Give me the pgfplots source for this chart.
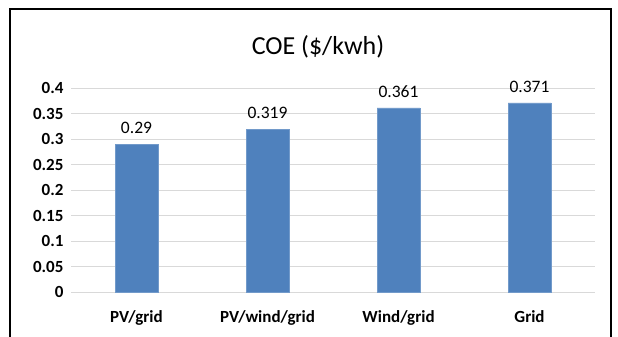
\documentclass[border=0pt]{standalone}
\usepackage{pgfplots}
\pgfplotsset{compat=1.18}
\usepackage{fontspec}
\setmainfont{Carlito}
\definecolor{barblue}{HTML}{4F81BD}
\definecolor{gridgray}{HTML}{D9D9D9}
\begin{document}
\begin{tikzpicture}[x=1bp,y=1bp]
\useasboundingbox (0,0) rectangle (618,336);
% outer chart frame
\draw[line width=2bp] (10,-10) rectangle (611,327);
\node[font=\fontsize{26bp}{30bp}\selectfont] at (318,289) {COE (\$/kwh)};
\begin{axis}[
  at={(71bp,44bp)}, anchor=south west,
  width=524bp, height=204bp, scale only axis,
  ybar, bar width=43bp,
  xmin=-0.5, xmax=3.5, ymin=0, ymax=0.4,
  xtick=data,
  xticklabels={PV/grid, PV/wind/grid, Wind/grid, Grid},
  ytick={0,0.05,...,0.4},
  yticklabel style={/pgf/number format/fixed, /pgf/number format/precision=2},
  /pgf/number format/assume math mode=true,
  ticklabel style={font=\fontsize{17bp}{20bp}\selectfont\bfseries},
  xticklabel style={yshift=-15bp},
  yticklabel style={xshift=-4bp},
  axis line style={draw=none},
  major tick length=0pt,
  ymajorgrids, grid style={gridgray, line width=1bp},
  nodes near coords,
  nodes near coords style={font=\fontsize{17.5bp}{20bp}\selectfont, black, /pgf/number format/fixed, /pgf/number format/precision=3, yshift=7bp},
  clip=false,
]
\addplot[fill=barblue, draw=barblue!80!white] coordinates {(0,0.29) (1,0.319) (2,0.361) (3,0.371)};
\end{axis}
\end{tikzpicture}
\end{document}
